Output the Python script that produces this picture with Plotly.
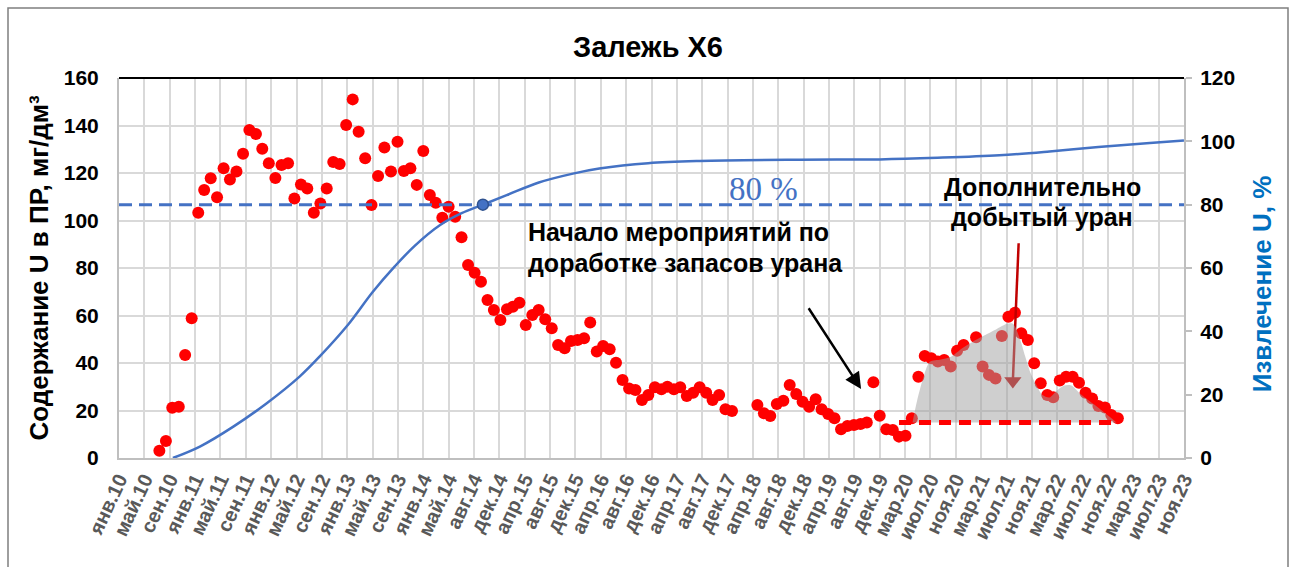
import pandas as pd
import plotly.graph_objects as go

# ---- data -------------------------------------------------------------
# monthly uranium content in productive solution, mg/dm3, from Aug 2010
start_month = "2010-08-01"
content_mg = [
    3.1, 7.2, 21.2, 21.6, 43.4, 58.8, 103.3, 112.8, 117.8, 109.8,
    122.0, 117.3, 120.6, 128.1, 138.1, 136.4, 130.2, 124.1, 117.9, 123.4,
    124.1, 109.3, 115.2, 113.5, 103.3, 107.2, 113.5, 124.6, 123.8, 140.2,
    151.0, 137.4, 126.2, 106.5, 118.7, 130.7, 120.6, 133.2, 120.8, 122.0,
    115.0, 129.3, 110.7, 107.5, 101.2, 105.8, 101.6, 92.9, 81.3, 78.0,
    74.2, 66.5, 62.3, 58.1, 62.6, 63.7, 65.4, 56.0, 60.2, 62.3,
    58.4, 54.6, 47.6, 46.2, 49.3, 49.7, 50.4, 57.1, 44.8, 47.2,
    45.8, 40.1, 32.8, 29.3, 28.6, 24.4, 26.5, 29.8, 28.9, 30.0,
    28.9, 29.8, 26.1, 27.5, 29.8, 27.5, 24.4, 26.5, 20.5, 19.8,
    None, None, None, 22.3, 18.8, 17.7, 22.7, 24.1, 30.7, 26.9,
    23.7, 21.6, 24.7, 20.5, 18.5, 16.7, 12.1, 13.5, 13.9, 14.3,
    14.9, 31.9, 17.8, 12.1, 11.8, 9.0, 9.4, 16.7, 34.2, 43.0,
    42.0, 40.6, 41.3, 38.5, 45.2, 47.6, None, 50.8, 38.5, 35.0,
    33.5, 51.4, 59.5, 61.2, 52.5, 49.7, 39.9, 31.5, 26.5, 25.6,
    32.6, 34.2, 34.2, 31.7, 27.5, 25.1, 21.9, 21.3, 18.1, 16.7,
]

# cumulative uranium recovery, %, (months since Aug 2010, value)
recovery_month = [2.1, 6.3, 11.5, 16.7, 21.8, 24.9, 29.3, 33.2, 36.6, 39.7,
                  43.6, 47.0, 50.3, 54.0, 59.0, 64.3, 68.4, 76.0, 84.0, 99.5,
                  112.0, 121.0, 130.6, 138.4, 146.0, 154.0, 159.3]
recovery_pct = [0.0, 3.6, 9.9, 17.3, 25.7, 32.0, 42.0, 52.5, 60.5, 67.0,
                73.5, 77.3, 80.0, 83.0, 87.0, 89.8, 91.4, 93.1, 93.8, 94.2,
                94.3, 94.8, 95.6, 96.8, 98.2, 99.5, 100.3]
recovery_target = 80
target_month = 50.3

# background content level and the envelope of additionally produced uranium
base_level = 15
base_months = [115.0, 148.9]
extra_month = [117.1, 117.8, 118.9, 119.8, 121.5, 123.0, 125.0, 127.5, 130.0,
               131.8, 132.7, 133.7, 134.6, 135.5, 136.4, 137.3, 138.4, 139.4,
               140.7, 141.8, 143.0, 144.6, 146.1, 147.7, 148.8]
extra_value = [15.0, 24.0, 35.0, 40.5, 41.5, 42.5, 46.5, 50.5, 54.0,
               56.5, 56.5, 51.0, 43.0, 35.5, 30.5, 26.5, 25.5, 28.0,
               30.5, 30.5, 27.5, 24.0, 21.0, 17.5, 15.0]

# pointer into the shaded area: (month, content) for tail and head
pointer_month = [133.6, 132.7]
pointer_value = [90.4, 32.4]

# x axis: labels every 120 days starting 22 Jan 2010
axis_start = "2010-01-22"
tick_step_days = 120
tick_labels = [
    "янв.10", "май.10", "сен.10", "янв.11", "май.11", "сен.11", "янв.12",
    "май.12", "сен.12", "янв.13", "май.13", "сен.13", "янв.14", "май.14",
    "авг.14", "дек.14", "апр.15", "авг.15", "дек.15", "апр.16", "авг.16",
    "дек.16", "апр.17", "авг.17", "дек.17", "апр.18", "авг.18", "дек.18",
    "апр.19", "авг.19", "дек.19", "мар.20", "июл.20", "ноя.20", "мар.21",
    "июл.21", "ноя.21", "мар.22", "июл.22", "ноя.22", "мар.23", "июл.23",
    "ноя.23",
]

# ---- helpers -----------------------------------------------------------
origin = pd.Timestamp(start_month)


def month_to_date(m):
    return origin + pd.to_timedelta(m * 30.4375, unit="D")


dates = pd.date_range(start_month, periods=len(content_mg), freq="MS")
tick_vals = [pd.Timestamp(axis_start) + pd.Timedelta(days=tick_step_days * k)
             for k in range(len(tick_labels))]
x_range = [tick_vals[0], tick_vals[-1]]

RED = "#FF0000"
DARK_RED = "#C00000"
BLUE = "#4472C4"
FONT = "Arial, Liberation Sans, sans-serif"

fig = go.Figure()

# content points
fig.add_trace(go.Scatter(
    x=dates, y=content_mg, mode="markers",
    marker=dict(size=12, color=RED, line=dict(width=0)),
    hoverinfo="skip", showlegend=False))

# pointer arrow (drawn below the shading)
fig.add_trace(go.Scatter(
    x=[month_to_date(m) for m in pointer_month], y=pointer_value,
    mode="lines", line=dict(color=DARK_RED, width=2.5),
    hoverinfo="skip", showlegend=False))
fig.add_trace(go.Scatter(
    x=[month_to_date(pointer_month[-1])], y=[pointer_value[-1]],
    mode="markers",
    marker=dict(symbol="triangle-down", size=15, color=DARK_RED,
                line=dict(width=0)),
    hoverinfo="skip", showlegend=False))

# shaded area of additionally produced uranium (covers the points beneath)
fig.add_trace(go.Scatter(
    x=[month_to_date(m) for m in extra_month], y=[base_level] * len(extra_month),
    mode="lines", line=dict(width=0), hoverinfo="skip", showlegend=False))
fig.add_trace(go.Scatter(
    x=[month_to_date(m) for m in extra_month], y=extra_value,
    mode="lines", line=dict(width=0, shape="spline", smoothing=0.8),
    fill="tonexty", fillcolor="rgba(160,160,160,0.5)",
    hoverinfo="skip", showlegend=False))

# background level
fig.add_trace(go.Scatter(
    x=[month_to_date(m) for m in base_months], y=[base_level, base_level],
    mode="lines", line=dict(color=RED, width=5, dash="12px,8px"),
    hoverinfo="skip", showlegend=False))

# recovery target line
fig.add_trace(go.Scatter(
    x=x_range, y=[recovery_target, recovery_target], yaxis="y2",
    mode="lines", line=dict(color=BLUE, width=3, dash="13px,7px"),
    hoverinfo="skip", showlegend=False))

# recovery curve
fig.add_trace(go.Scatter(
    x=[month_to_date(m) for m in recovery_month], y=recovery_pct, yaxis="y2",
    mode="lines", line=dict(color=BLUE, width=2.5, shape="spline", smoothing=1.0),
    hoverinfo="skip", showlegend=False))

# point where the target is reached
fig.add_trace(go.Scatter(
    x=[month_to_date(target_month)], y=[recovery_target], yaxis="y2",
    mode="markers",
    marker=dict(size=11, color=BLUE, line=dict(color="#2F528F", width=1.5)),
    hoverinfo="skip", showlegend=False))

bold = dict(family=FONT, color="black", weight="bold")
mid = dict(xanchor="center", yanchor="middle", showarrow=False)

annotations = [
    dict(text="Залежь X6", xref="paper", yref="paper", x=0.4967, y=1.0816,
         font=dict(size=29, **bold), **mid),
    dict(text="Содержание U в ПР, мг/дм³", xref="paper", yref="paper",
         x=-0.0755, y=0.5, textangle=-90, font=dict(size=26, **bold), **mid),
    dict(text="Извлечение U, %", xref="paper", yref="paper",
         x=1.0735, y=0.458, textangle=-90,
         font=dict(size=26, family=FONT, color="#0070C0", weight="bold"),
         **mid),
    dict(text="80 %", x=month_to_date(93.9), y=113.3,
         font=dict(size=33, family="Liberation Serif, Times New Roman, serif",
                   color=BLUE), **mid),
    dict(text="Начало мероприятий по", x=month_to_date(56.95), y=95.3,
         xanchor="left", yanchor="middle", showarrow=False,
         font=dict(size=25, **bold)),
    dict(text="доработке запасов урана", x=month_to_date(56.95), y=82.3,
         xanchor="left", yanchor="middle", showarrow=False,
         font=dict(size=25, **bold)),
    dict(text="Дополнительно", x=month_to_date(137.3), y=114.3,
         font=dict(size=25, **bold), **mid),
    dict(text="добытый уран", x=month_to_date(137.3), y=101.5,
         font=dict(size=25, **bold), **mid),
    # arrow to the start of the measures
    dict(text="", x=month_to_date(109.1), y=29.1, ax=month_to_date(100.8),
         ay=63.7, axref="x", ayref="y", showarrow=True, arrowhead=2,
         arrowsize=1.3, arrowwidth=2.5, arrowcolor="black", standoff=0),
]

shapes = [
    # top edge of plot area
    dict(type="line", xref="paper", yref="paper", x0=0, x1=1, y0=1, y1=1,
         line=dict(color="black", width=2)),
    # chart frame
    dict(type="rect", xref="paper", yref="paper",
         x0=(8 - 119) / 1065, x1=(1288 - 119) / 1065,
         y0=(458 - 600) / 380, y1=(458 - 8) / 380,
         line=dict(color="#7F7F7F", width=1.5)),
]

fig.update_layout(
    width=1296, height=567,
    margin=dict(l=119, r=112, t=78, b=109, autoexpand=False),
    paper_bgcolor="white", plot_bgcolor="white",
    showlegend=False,
    xaxis=dict(
        type="date", range=x_range, tickvals=tick_vals, ticktext=tick_labels,
        tickangle=-65, tickfont=dict(size=20, family=FONT, color="#595959",
                                     weight="bold"),
        showgrid=True, gridcolor="#D9D9D9", gridwidth=2,
        showline=True, linecolor="#BFBFBF", linewidth=2, ticks="",
        zeroline=False, automargin=False),
    yaxis=dict(
        range=[0, 160], dtick=20, showgrid=True, gridcolor="#D9D9D9",
        gridwidth=2, showline=True, linecolor="#BFBFBF", linewidth=2,
        ticks="", zeroline=False, automargin=False, ticklabelstandoff=14,
        tickfont=dict(size=21, **bold)),
    yaxis2=dict(
        range=[0, 120], dtick=20, overlaying="y", side="right",
        showgrid=False, showline=True, linecolor="#BFBFBF", linewidth=2,
        ticks="outside", ticklen=6, tickcolor="#BFBFBF", tickwidth=1.5,
        ticklabelstandoff=4,
        zeroline=False, automargin=False, tickfont=dict(size=21, **bold)),
    annotations=annotations,
    shapes=shapes,
)

fig.write_html("out.html")
